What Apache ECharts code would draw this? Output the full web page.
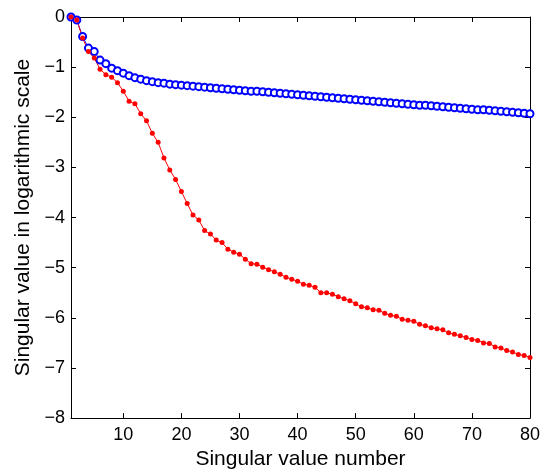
<!DOCTYPE html>
<html>
<head>
<meta charset="utf-8">
<script src="https://cdn.jsdelivr.net/npm/echarts@6/dist/echarts.min.js"></script>
<style>html,body{margin:0;padding:0;background:#fff;}#c{width:543px;height:475px;}</style>
</head>
<body>
<div id="c"></div>
<script>
var xTicks = [10, 20, 30, 40, 50, 60, 70, 80];
var yTicks = [0, -1, -2, -3, -4, -5, -6, -7, -8];
var blueValues = [0, -0.06, -0.39, -0.62, -0.69, -0.86, -0.93, -1.02, -1.07, -1.12,
  -1.17, -1.21, -1.24, -1.27, -1.29, -1.31, -1.32, -1.34, -1.35, -1.36,
  -1.37, -1.38, -1.39, -1.40, -1.41, -1.42, -1.43, -1.44, -1.45, -1.46,
  -1.47, -1.48, -1.48, -1.49, -1.50, -1.51, -1.52, -1.53, -1.54, -1.55,
  -1.56, -1.57, -1.58, -1.59, -1.60, -1.61, -1.62, -1.63, -1.64, -1.65,
  -1.66, -1.67, -1.68, -1.69, -1.70, -1.71, -1.72, -1.73, -1.74, -1.75,
  -1.76, -1.76, -1.77, -1.78, -1.79, -1.80, -1.81, -1.82, -1.83, -1.84,
  -1.85, -1.85, -1.86, -1.87, -1.88, -1.89, -1.90, -1.91, -1.92, -1.93];
var redValues = [0, -0.06, -0.42, -0.69, -0.82, -1.04, -1.15, -1.20, -1.31, -1.48,
  -1.68, -1.73, -1.93, -2.07, -2.32, -2.50, -2.81, -3.05, -3.24, -3.48,
  -3.72, -3.95, -4.05, -4.26, -4.33, -4.45, -4.50, -4.63, -4.69, -4.73,
  -4.83, -4.92, -4.93, -4.99, -5.04, -5.08, -5.13, -5.19, -5.23, -5.27,
  -5.33, -5.35, -5.39, -5.50, -5.50, -5.53, -5.58, -5.62, -5.66, -5.72,
  -5.78, -5.80, -5.84, -5.85, -5.91, -5.95, -5.97, -6.03, -6.05, -6.07,
  -6.13, -6.16, -6.20, -6.22, -6.24, -6.30, -6.33, -6.36, -6.39, -6.43,
  -6.45, -6.50, -6.51, -6.58, -6.60, -6.65, -6.68, -6.73, -6.75, -6.79];

function pairs(vals) { return vals.map(function (v, i) { return [i + 1, v]; }); }
var FONT = 'Liberation Sans';
var lineStyle = { color: '#000', width: 1 };
function fmtY(v) { return v < 0 ? '\u2212' + Math.abs(v) : String(v); }

var chart = echarts.init(document.getElementById('c'), null, { renderer: 'canvas' });
chart.setOption({
  animation: false,
  backgroundColor: '#fff',
  grid: { left: 71, right: 13, top: 17, bottom: 54 },
  xAxis: [{
    type: 'value', min: 1, max: 80, position: 'bottom',
    name: 'Singular value number', nameLocation: 'middle', nameGap: 30,
    nameTextStyle: { fontFamily: FONT, fontSize: 21, color: '#000' },
    axisLine: { show: true, onZero: false, lineStyle: lineStyle },
    axisTick: { show: true, inside: true, length: 5, customValues: xTicks, lineStyle: lineStyle },
    axisLabel: { customValues: xTicks, fontFamily: FONT, fontSize: 18, color: '#000', margin: 8 },
    splitLine: { show: false }
  }, {
    type: 'value', min: 1, max: 80, position: 'top',
    axisLine: { show: true, onZero: false, lineStyle: lineStyle },
    axisTick: { show: true, inside: true, length: 5, customValues: xTicks, lineStyle: lineStyle },
    axisLabel: { show: false },
    splitLine: { show: false }
  }],
  yAxis: [{
    type: 'value', min: -8, max: 0, interval: 1, position: 'left',
    name: 'Singular value in logarithmic scale', nameLocation: 'middle', nameGap: 36, nameRotate: 90,
    nameTextStyle: { fontFamily: FONT, fontSize: 21, color: '#000' },
    axisLine: { show: true, onZero: false, lineStyle: lineStyle },
    axisTick: { show: true, inside: true, length: 5, lineStyle: lineStyle },
    axisLabel: { fontFamily: FONT, fontSize: 18, color: '#000', margin: 6, formatter: fmtY },
    splitLine: { show: false }
  }, {
    type: 'value', min: -8, max: 0, interval: 1, position: 'right',
    axisLine: { show: true, onZero: false, lineStyle: lineStyle },
    axisTick: { show: true, inside: true, length: 5, lineStyle: lineStyle },
    axisLabel: { show: false },
    splitLine: { show: false }
  }],
  series: [{
    type: 'line', xAxisIndex: 0, yAxisIndex: 0,
    data: pairs(blueValues),
    symbol: 'emptyCircle', symbolSize: 7,
    lineStyle: { color: '#0000ff', width: 1 },
    itemStyle: { color: '#0000ff', borderColor: '#0000ff', borderWidth: 0.9 }
  }, {
    type: 'line', xAxisIndex: 0, yAxisIndex: 0,
    data: pairs(redValues),
    symbol: 'circle', symbolSize: 5,
    lineStyle: { color: '#ff0000', width: 1 },
    itemStyle: { color: '#ff0000' }
  }]
});
</script>
</body>
</html>
